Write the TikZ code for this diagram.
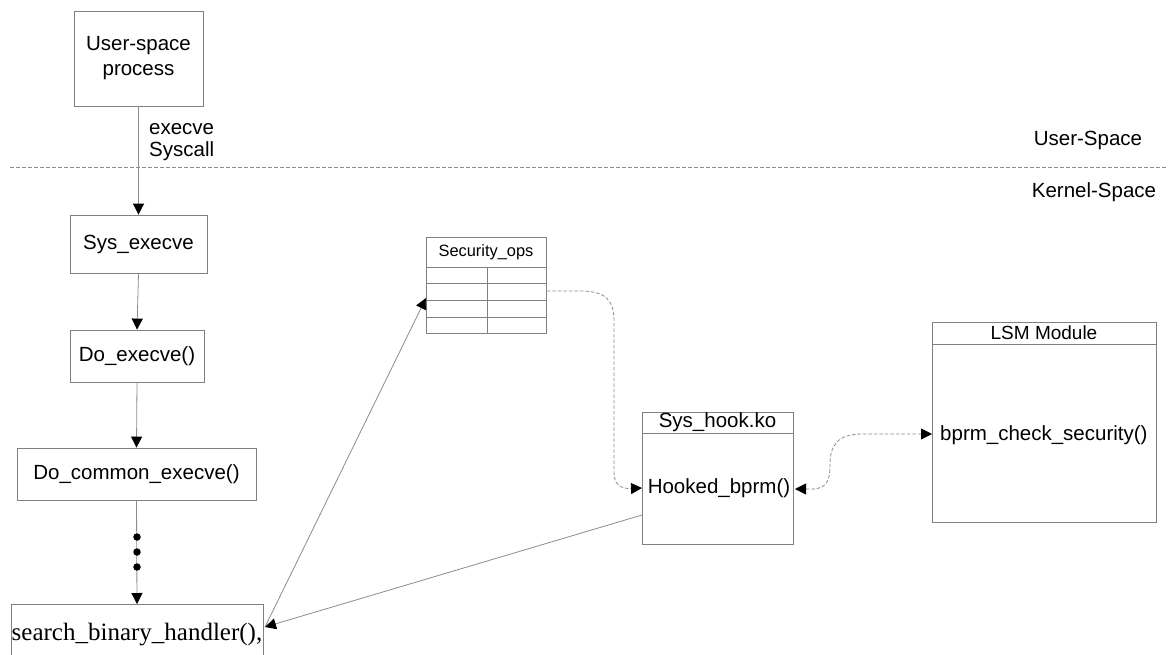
\documentclass[tikz,border=0pt]{standalone}
\usepackage{fontspec}
\setmainfont{Liberation Sans}
\newfontfamily\timesf{Liberation Serif}
\usetikzlibrary{arrows.meta,calc}
\definecolor{ln}{gray}{0.55}
\definecolor{bx}{gray}{0.5}
\tikzset{
  x=1pt,y=-1pt,
  box/.style={draw=bx,line width=0.8pt,inner sep=0pt,rectangle,font=\fontsize{20.5}{24}\selectfont,align=center},
  lbl/.style={inner sep=0pt,font=\fontsize{20.5}{24}\selectfont},
  tip/.style={-{Triangle[length=11pt,width=11pt,color=black,fill=black]}},
  conn/.style={draw=ln,line width=0.8pt,tip},
  dconn/.style={draw=ln,line width=0.8pt,dashed,dash pattern=on 3.5pt off 2pt},
  dot/.style={circle,fill=black,inner sep=0pt,minimum size=7.5pt},
}
\begin{document}
\begin{tikzpicture}
\useasboundingbox (0,0) rectangle (1168,654);
\clip (0,0) rectangle (1168,654);

% separator
\draw[ln,line width=0.7pt,dash pattern=on 4pt off 2pt] (10,167) -- (1168,167);
\node[lbl] (us) at (1088,140) {User-Space};
\node[lbl] (ks) at (1094,192) {Kernel-Space};

% left chain
\node[box,minimum width=129,minimum height=95] (user) at (138.5,58.5) {User-space\\[1pt]process};
\node[box,minimum width=137,minimum height=58] (sys) at (138.5,244) {Sys\_execve};
\node[box,minimum width=134,minimum height=52] (doex) at (137,356) {Do\_execve()};
\node[box,minimum width=239,minimum height=52] (docom) at (136.5,474) {Do\_common\_execve()};
\node[box,minimum width=252,minimum height=60,anchor=north,font=\timesf\fontsize{25}{28}\selectfont] (search) at (137,604) {\raisebox{-4pt}{search\_binary\_handler(),}};

\node[lbl,anchor=west,align=left,font=\fontsize{20.5}{22}\selectfont] (execlbl) at (149,142) {execve\\Syscall};

\draw[conn] (user.south) -- (sys.north);
\draw[conn] (sys.south) -- (doex.north);
\draw[conn] (doex.south) -- (docom.north);
\draw[conn] (docom.south) -- (search.north);
\node[dot] (d1) at (137,537) {};
\node[dot] (d2) at (137,552) {};
\node[dot] (d3) at (137,567) {};

% Security_ops table
\node[box,minimum width=120,minimum height=96,anchor=north west] (sec) at (426,237) {};
\node[lbl,font=\fontsize{16.4}{18}\selectfont] (sectitle) at (486,252) {Security\_ops};
\draw[bx,line width=0.8pt] (sec.west |- 0,267) -- (sec.east |- 0,267);
\draw[bx,line width=0.7pt] (sec.west |- 0,283) -- (sec.east |- 0,283);
\draw[bx,line width=0.7pt] (sec.west |- 0,300) -- (sec.east |- 0,300);
\draw[bx,line width=0.7pt] (sec.west |- 0,317) -- (sec.east |- 0,317);
\draw[bx,line width=0.7pt] (487,267) -- (sec.south -| 487,0);
\coordinate (secin) at (sec.west |- 0,298);
\coordinate (secout) at (sec.east |- 0,291);

% Sys_hook.ko
\node[box,minimum width=151,minimum height=132,anchor=north west] (hook) at (642,412) {};
\node[lbl] (hooktitle) at (717.5,422) {Sys\_hook.ko};
\draw[bx,line width=0.8pt] (hook.west |- 0,433) -- (hook.east |- 0,433);
\node[lbl] (hookfn) at (719,488) {Hooked\_bprm()};
\coordinate (hookL) at (hook.west |- hookfn);
\coordinate (hookR) at (795,489);
\coordinate (hookout) at (hook.west |- 0,515);

% LSM Module
\node[box,minimum width=224,minimum height=200,anchor=north west] (lsm) at (932,322) {};
\node[lbl,font=\fontsize{19}{22}\selectfont] (lsmtitle) at (1044,333) {LSM Module};
\draw[bx,line width=0.8pt] (lsm.west |- 0,344) -- (lsm.east |- 0,344);
\node[lbl,anchor=west] (lsmfn) at (940,435) {bprm\_check\_security()};
\coordinate (lsmL) at (lsm.west |- 0,434);

% connectors
\coordinate (sE) at (265,627);
\draw[conn] (sE) -- (secin);
\draw[conn] (hookout) -- (sE);
\draw[dconn,tip] (secout) -- (580,291) .. controls (606,291) and (614,300) .. (614,322)
  -- (614,472) .. controls (614,484) and (620,489) .. (hookL);
\draw[dconn,{Triangle[length=11pt,width=11pt,color=black,fill=black]}-{Triangle[length=11pt,width=11pt,color=black,fill=black]}]
  (hookR) -- (812,489) .. controls (828,489) and (830,478) .. (830,465)
  .. controls (830,445) and (838,434) .. (862,434) -- (lsmL);
\end{tikzpicture}
\end{document}
